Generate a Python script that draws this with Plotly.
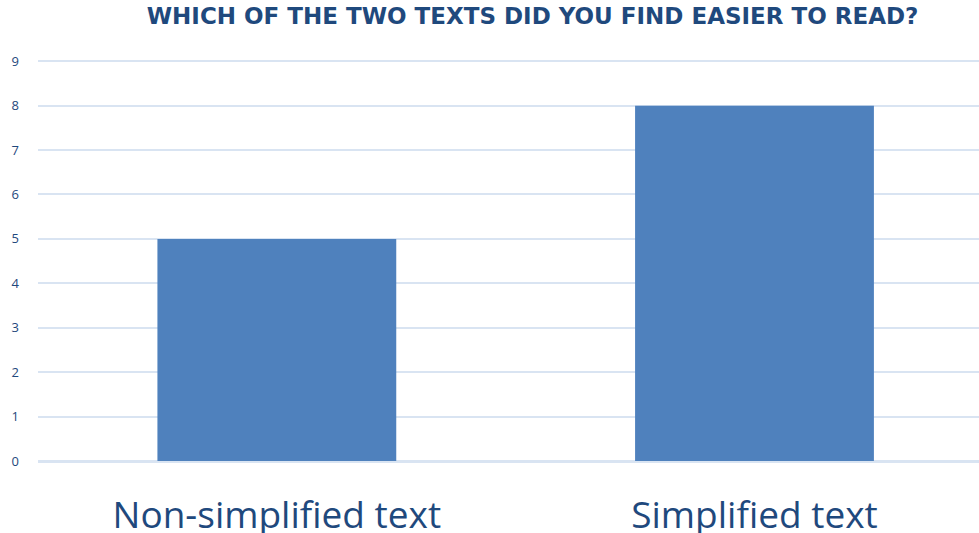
import plotly.graph_objects as go

categories = ["Non-simplified text", "Simplified text"]
values = [5, 8]
y_ticks = [0, 1, 2, 3, 4, 5, 6, 7, 8, 9]

bar_color = "#4F81BD"
text_color = "#1F497D"
grid_color = "#D9E4F2"

fig = go.Figure(
    go.Bar(
        x=categories,
        y=values,
        width=0.5,
        marker=dict(color=bar_color, line=dict(width=0)),
    )
)

fig.update_layout(
    width=979,
    height=533,
    margin=dict(l=38, r=0, t=59, b=72, autoexpand=False),
    paper_bgcolor="white",
    plot_bgcolor="white",
    showlegend=False,
    title=dict(
        text="<b>WHICH OF THE TWO TEXTS DID YOU FIND EASIER TO READ?</b>",
        x=0.544,
        xanchor="center",
        y=0.985,
        yanchor="top",
        font=dict(family="DejaVu Sans", size=23, color=text_color),
    ),
)

fig.update_xaxes(
    range=[-0.5, 1.47],
    automargin=False,
    showgrid=False,
    showline=False,
    zeroline=False,
    ticks="",
    ticklabelstandoff=29,
    tickfont=dict(family="Open Sans", size=37, color=text_color),
)

fig.update_yaxes(
    range=[0, 9.05],
    automargin=False,
    tickvals=y_ticks,
    showgrid=True,
    gridcolor=grid_color,
    gridwidth=1.5,
    zeroline=True,
    zerolinecolor=grid_color,
    zerolinewidth=2.5,
    showline=False,
    ticks="",
    ticklabelstandoff=18,
    tickfont=dict(family="Open Sans", size=13, color=text_color),
)

fig.write_html("out.html")
